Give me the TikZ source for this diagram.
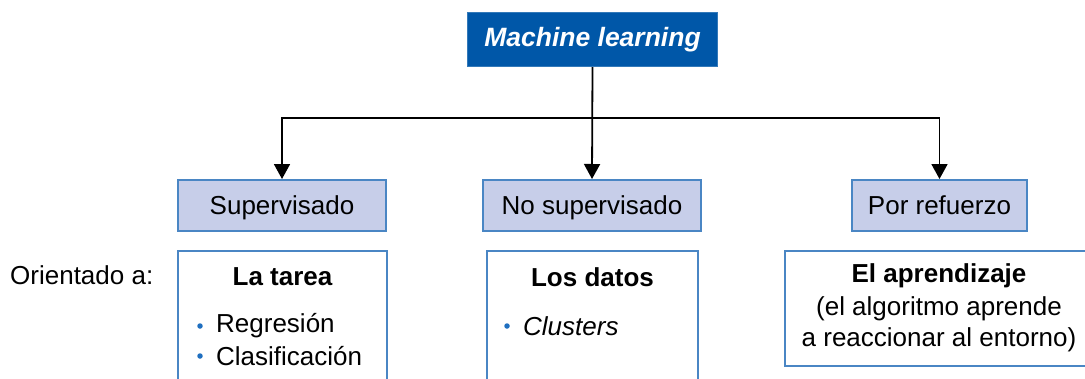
\documentclass[tikz,border=0pt]{standalone}
\usepackage{fontspec}
\setmainfont{Liberation Sans}
\usetikzlibrary{arrows.meta}
\definecolor{mlblue}{HTML}{0057A8}
\definecolor{typefill}{HTML}{C7CEE9}
\definecolor{edgeblue}{HTML}{4A86C4}
\definecolor{dotblue}{HTML}{1F6FC0}
\tikzset{
  txt/.style={font=\fontsize{26}{30}\selectfont, inner sep=0pt},
  rootbox/.style={fill=mlblue, draw=mlblue!80!white, line width=1pt, text=white,
    font=\fontsize{26.5}{30}\selectfont\bfseries\itshape,
    minimum width=250pt, minimum height=54pt, inner sep=0pt},
  typebox/.style={fill=typefill, draw=edgeblue, line width=2pt,
    font=\fontsize{26}{30}\selectfont, minimum height=51pt, inner sep=0pt,
    text height=19pt, text depth=1pt},
  focusbox/.style={fill=white, draw=edgeblue, line width=2pt, inner sep=0pt},
  link/.style={draw=black, line width=1.8pt,
    -{Triangle[length=15pt,width=16pt]}},
  bullet/.style={circle, fill=dotblue, inner sep=0pt, minimum size=5.5pt}
}
\begin{document}
\begin{tikzpicture}[x=1pt,y=-1pt]
\useasboundingbox (0,0) rectangle (1085,378);
\clip (0,0) rectangle (1085,378);
\fill[white] (0,0) rectangle (1085,378);

% root
\node[rootbox] (ml) at (592.5,39.5) {Machine learning};

% learning types
\node[typebox, minimum width=208pt] (sup) at (282,205.5) {Supervisado};
\node[typebox, minimum width=218pt] (nosup) at (592,205.5) {No supervisado};
\node[typebox, minimum width=175pt] (ref) at (939.5,205.5) {Por refuerzo};

% connectors
\coordinate (j) at (592.5,118);
\draw[link] (ml.south) -- (nosup.north);
\draw[link] (j) -| (sup.north);
\draw[link] (j) -| (ref.north);

% what each type is oriented to
\node[txt, anchor=west] (orient) at (10,275) {Orientado a:};

\node[focusbox, minimum width=209pt, minimum height=150pt] (tarea) at (282.5,326) {};
\node[txt, font=\fontsize{26}{30}\selectfont\bfseries] (tareat) at (282.5,277) {La tarea};
\node[bullet] (b1) at (200,326) {};
\node[txt, anchor=west] (reg) at (216,326) {Regresión};
\node[bullet] (b2) at (200,356) {};
\node[txt, anchor=west] (clas) at (216,356) {Clasificación};

\node[focusbox, minimum width=211pt, minimum height=150pt] (datos) at (592.5,326) {};
\node[txt, font=\fontsize{26}{30}\selectfont\bfseries] (datost) at (592.5,277) {Los datos};
\node[bullet] (b3) at (507,326) {};
\node[txt, anchor=west, font=\fontsize{26}{30}\selectfont\itshape] (clu) at (523,326) {Clusters};

\node[focusbox, minimum width=320pt, minimum height=115pt] (aprend) at (945,308.5) {};
\node[txt, font=\fontsize{26}{30}\selectfont\bfseries] (aprendt) at (939,276) {El aprendizaje};
\node[txt] (alg1) at (939,309) {(el algoritmo aprende};
\node[txt] (alg2) at (939,340) {a reaccionar al entorno)};
\end{tikzpicture}
\end{document}
